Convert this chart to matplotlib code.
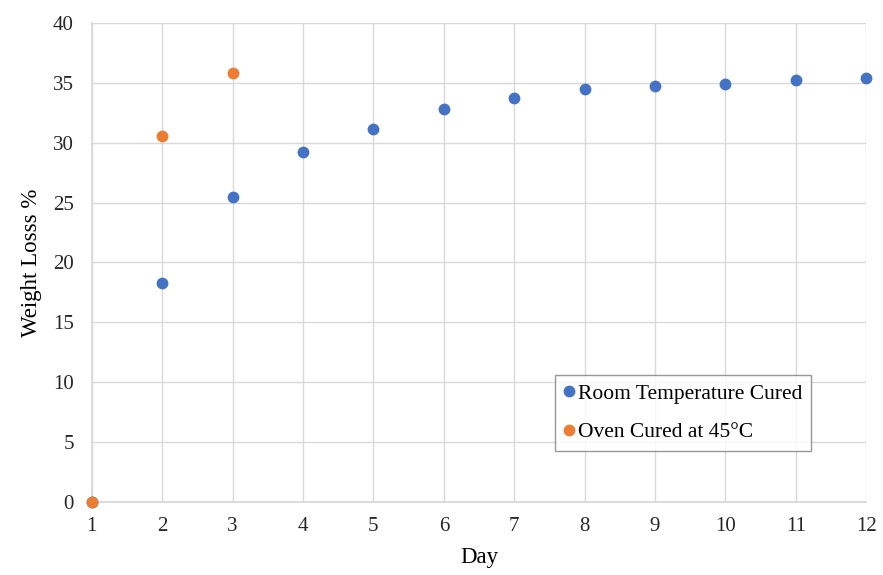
import matplotlib.pyplot as plt

plt.rcParams['font.family'] = ['Liberation Serif', 'DejaVu Serif']

days_room = [1, 2, 3, 4, 5, 6, 7, 8, 9, 10, 11, 12]
loss_room = [0, 18.3, 25.5, 29.2, 31.15, 32.8, 33.7, 34.45, 34.75, 34.9, 35.2, 35.4]
days_oven = [1, 2, 3]
loss_oven = [0, 30.55, 35.8]

blue = '#4472c4'
orange = '#ed7d31'
grid_col = '#d9d9d9'

fig = plt.figure(figsize=(8.83, 5.75), dpi=100)
ax = fig.add_axes([0.104, 0.127, 0.877, 0.833])

ax.plot(days_room, loss_room, 'o', color=blue, ms=8.5, mec='none',
        label='Room Temperature Cured', zorder=3, clip_on=False)
ax.plot(days_oven, loss_oven, 'o', color=orange, ms=8.5, mec='none',
        label='Oven Cured at 45°C', zorder=4, clip_on=False)

ax.set_xlim(1, 12)
ax.set_ylim(0, 40)
ax.set_xticks(range(1, 13))
ax.set_yticks(range(0, 41, 5))
ax.grid(True, color=grid_col, lw=1)
ax.set_axisbelow(True)
for s in ['top', 'right']:
    ax.spines[s].set_visible(False)
for s in ['left', 'bottom']:
    ax.spines[s].set_color(grid_col)
    ax.spines[s].set_linewidth(1.3)
ax.tick_params(length=0, labelsize=15, pad=13, colors='#262626')
ax.tick_params(axis='x', pad=11)

ax.set_xlabel('Day', fontsize=16.5, labelpad=8)
ax.set_ylabel('Weight Losss %', fontsize=16.5, labelpad=8)

leg = ax.legend(loc='upper left', bbox_to_anchor=(0.598, 0.265), fontsize=15.5,
                frameon=True, fancybox=False, edgecolor='#7f7f7f',
                handlelength=0.5, handletextpad=0.15, borderpad=0.4,
                labelspacing=0.85, borderaxespad=0)
leg.get_frame().set_linewidth(1.0)

plt.savefig('out.png', dpi=100)
